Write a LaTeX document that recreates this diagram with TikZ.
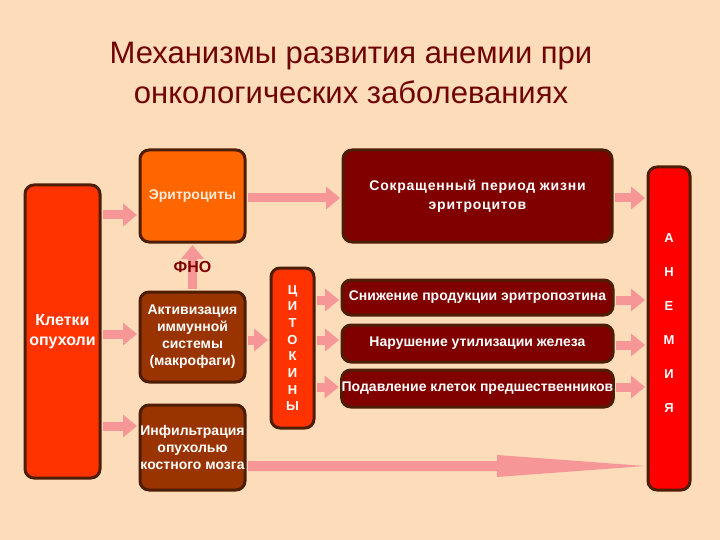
\documentclass[tikz,border=0pt]{standalone}
\usepackage{fontspec}
\setmainfont{Liberation Sans}
\newfontfamily\widesans[LetterSpace=5.5]{Liberation Sans}
\usetikzlibrary{arrows.meta, positioning, calc}
\definecolor{peachbg}{RGB}{253,220,186}
\definecolor{boxrim}{RGB}{77,30,5}
\definecolor{tumorred}{RGB}{255,51,0}
\definecolor{eryorange}{RGB}{255,102,0}
\definecolor{darkmaroon}{RGB}{128,0,0}
\definecolor{brownbox}{RGB}{153,51,0}
\definecolor{anemiared}{RGB}{255,0,0}
\definecolor{pinkarrow}{RGB}{247,150,150}
\definecolor{titlered}{RGB}{112,4,4}

\begin{document}
\begin{tikzpicture}[x=1pt, y=-1pt,
  every node/.style={font=\bfseries\fontsize{14}{17}\selectfont, text=white, align=center},
  box/.style={draw=boxrim, line width=3pt, rounded corners=9pt, inner sep=0pt},
  fat/.style={-{Triangle[length=14pt, width=22pt]}, line width=9pt, pinkarrow, shorten <=1.5pt, shorten >=1.5pt}]
\useasboundingbox[fill=peachbg] (0,0) rectangle (720,540);
\node[font=\fontsize{31}{40}\selectfont, text=titlered] (title) at (351,73) {Механизмы развития анемии при\\онкологических заболеваниях};
% left column
\node[box, fill=tumorred, minimum width=75pt, minimum height=293pt, font=\bfseries\fontsize{16}{20}\selectfont] (tumor) at (62.5,331.5) {Клетки\\опухоли};
\node[box, fill=eryorange, minimum width=105pt, minimum height=92pt, text={rgb,255:red,255;green,235;blue,215}] (ery) at (192.5,196) {Эритроциты};
\node[box, fill=brownbox, minimum width=105pt, minimum height=90pt] (immune) at (192.5,337) {Активизация\\иммунной\\системы\\(макрофаги)};
\node[box, fill=brownbox, minimum width=105pt, minimum height=85pt] (infil) at (192.5,447.5) {Инфильтрация\\опухолью\\костного мозга};
% middle
\node[box, fill=darkmaroon, minimum width=269pt, minimum height=92pt, font=\widesans\bfseries\fontsize{14}{19}\selectfont] (short) at (477.5,196) {Сокращенный период жизни\\эритроцитов};
\node[box, fill=tumorred, minimum width=43pt, minimum height=160pt, font=\bfseries\fontsize{13}{16.7}\selectfont] (cyto) at (292.5,348) {Ц\\И\\Т\\О\\К\\И\\Н\\Ы};
\node[box, fill=darkmaroon, minimum width=271pt, minimum height=35pt] (epo) at (477.5,297.5) {Снижение продукции эритропоэтина};
\node[box, fill=darkmaroon, minimum width=271pt, minimum height=37pt] (iron) at (477.5,343.5) {Нарушение утилизации железа};
\node[box, fill=darkmaroon, minimum width=271pt, minimum height=37pt] (prec) at (477.5,388.5) {Подавление клеток предшественников};
% right
\node[box, fill=anemiared, minimum width=42pt, minimum height=323pt] (anemia) at (669,328.5) {};
\node[font=\bfseries\fontsize{13}{34}\selectfont] (anemiatext) at ($(anemia.center)+(0,-5)$) {А\\Н\\Е\\М\\И\\Я};
% arrows
\draw[fat] (tumor.east |- 0,215) -- (ery.west |- 0,215);
\draw[fat] (tumor.east |- 0,334) -- (immune.west |- 0,334);
\draw[fat] (tumor.east |- 0,426) -- (infil.west |- 0,426);
\draw[fat] (ery.east |- 0,198) -- (short.west |- 0,198);
\draw[fat] (short.east |- 0,198) -- (anemia.west |- 0,198);
\draw[fat] (immune.north) -- node[text=darkmaroon, font=\bfseries\fontsize{16}{18}\selectfont] {ФНО} (ery.south);
\draw[fat] (immune.east |- 0,340) -- (cyto.west |- 0,340);
\draw[fat] (cyto.east |- 0,300) -- (epo.west |- 0,300);
\draw[fat] (cyto.east |- 0,340) -- (iron.west |- 0,340);
\draw[fat] (cyto.east |- 0,387) -- (prec.west |- 0,387);
\draw[fat] (epo.east |- 0,300) -- (anemia.west |- 0,300);
\draw[fat] (iron.east |- 0,345) -- (anemia.west |- 0,345);
\draw[fat] (prec.east |- 0,387) -- (anemia.west |- 0,387);
% long arrow to anemia
\fill[pinkarrow] ($(infil.east |- 0,461)+(1.5,0)$) -- (497,461) -- (497,455) -- ($(anemia.west |- 0,466)+(-1.5,0)$)
  -- (497,477) -- (497,471) -- ($(infil.east |- 0,471)+(1.5,0)$) -- cycle;
\end{tikzpicture}
\end{document}
